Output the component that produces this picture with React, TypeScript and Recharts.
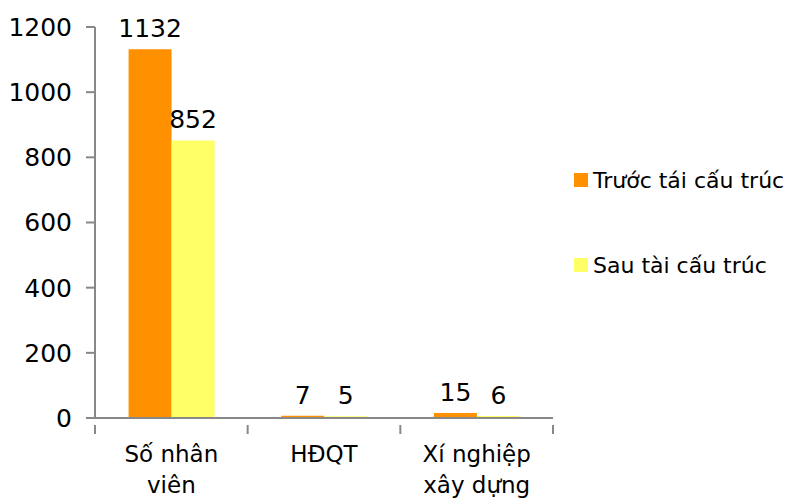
import React from 'react';
import { BarChart, Bar, XAxis, YAxis, LabelList } from 'recharts';

const categories = ['Số nhân viên', 'HĐQT', 'Xí nghiệp xây dựng'];
const categoryLines = [['Số nhân', 'viên'], ['HĐQT'], ['Xí nghiệp', 'xây dựng']];
const truocValues = [1132, 7, 15];
const sauValues = [852, 5, 6];
const yTicks = [0, 200, 400, 600, 800, 1000, 1200];
const seriesNames = ['Trước tái cấu trúc', 'Sau tài cấu trúc'];
const seriesColors = ['#FF9100', '#FFFF66'];

const data = categories.map((c, i) => ({ name: c, truoc: truocValues[i], sau: sauValues[i] }));

const FONT = '"DejaVu Sans", sans-serif';

const CatTick = (props: any) => {
  const { x, y, payload, width } = props;
  const band = (width || 458) / categories.length;
  const idx = categories.indexOf(payload.value);
  const lines = categoryLines[idx] || [payload.value];
  return (
    <g transform={`translate(${x},${y})`}>
      <line x1={-band / 2} x2={-band / 2} y1={-1} y2={8} stroke="#888" strokeWidth={2} />
      {idx === categories.length - 1 && (
        <line x1={band / 2} x2={band / 2} y1={-1} y2={8} stroke="#888" strokeWidth={2} />
      )}
      {lines.map((l, i) => (
        <text key={i} x={0} y={36 + i * 31} textAnchor="middle" fill="#000" fontSize={23} fontFamily={FONT}>
          {l}
        </text>
      ))}
    </g>
  );
};

export default function App() {
  return (
    <div style={{ position: 'absolute', left: 0, top: 0, width: 803, height: 500, background: '#fff' }}>
      <BarChart width={803} height={500} data={data} margin={{ top: 27, right: 250, left: 0, bottom: 0 }} barCategoryGap="22%" barGap={0}>
        <YAxis
          width={95}
          domain={[0, 1200]}
          ticks={yTicks}
          interval={0}
          axisLine={{ stroke: '#888', strokeWidth: 2 }}
          tickLine={{ stroke: '#888', strokeWidth: 2 }}
          tickSize={9}
          tickMargin={14}
          tick={{ fill: '#000', fontSize: 25, fontFamily: FONT }}
        />
        <XAxis
          dataKey="name"
          height={82}
          axisLine={{ stroke: '#888', strokeWidth: 2 }}
          tickLine={false}
          tick={<CatTick />}
          interval={0}
        />
        <Bar dataKey="truoc" name={seriesNames[0]} fill={seriesColors[0]} isAnimationActive={false}>
          <LabelList dataKey="truoc" position="top" offset={12} fill="#000" fontSize={25} fontFamily={FONT} />
        </Bar>
        <Bar dataKey="sau" name={seriesNames[1]} fill={seriesColors[1]} isAnimationActive={false}>
          <LabelList dataKey="sau" position="top" offset={12} fill="#000" fontSize={25} fontFamily={FONT} />
        </Bar>
      </BarChart>
      <div style={{ position: 'absolute', left: 574, top: 166, fontFamily: FONT, fontSize: 22 }}>
        {seriesNames.map((n, i) => (
          <div key={n} style={{ display: 'flex', alignItems: 'center', height: 28, marginBottom: i === 0 ? 57 : 0 }}>
            <span style={{ display: 'inline-block', width: 14, height: 14, background: seriesColors[i], marginRight: 5 }} />
            <span>{n}</span>
          </div>
        ))}
      </div>
    </div>
  );
}
